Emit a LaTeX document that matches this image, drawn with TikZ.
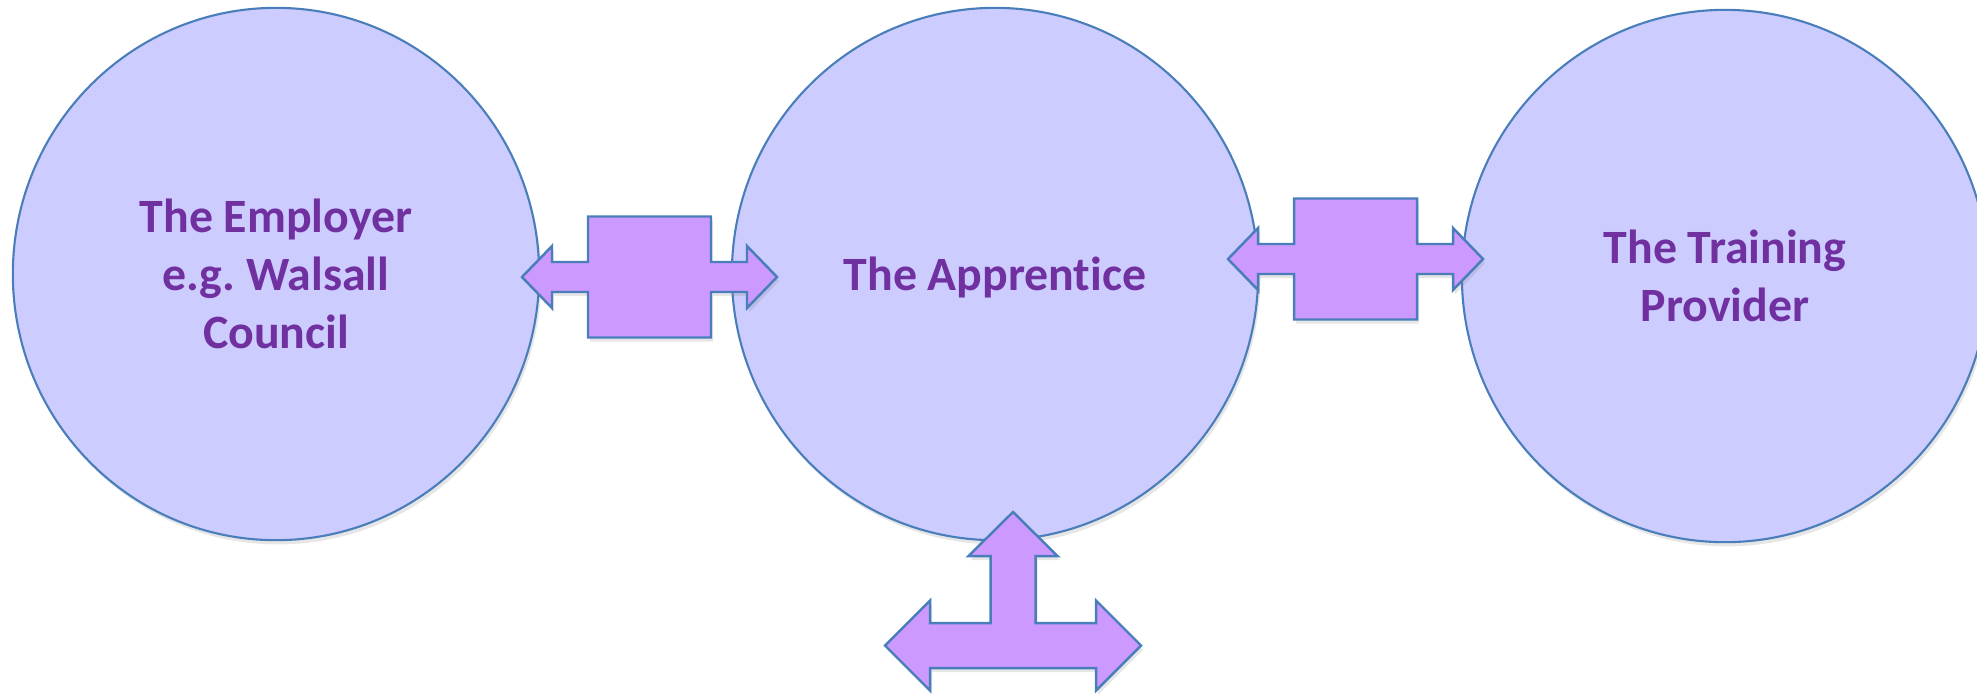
\documentclass[tikz,border=0pt]{standalone}
\usepackage{fontspec}
\setmainfont{Carlito}[Ligatures=NoCommon]
\usetikzlibrary{shapes.geometric,shadows}

\definecolor{circfill}{HTML}{CCCCFF}
\definecolor{edgeblue}{HTML}{4A7EBB}
\definecolor{arrowfill}{HTML}{CC99FF}
\definecolor{labelpurple}{HTML}{7030A0}

\begin{document}
\begin{tikzpicture}[x=0.01cm,y=-0.01cm,
  party/.style={ellipse,draw=edgeblue,fill=circfill,line width=0.6pt,
    minimum width=5.26cm,minimum height=5.32cm,inner sep=0pt,align=center,
    text=labelpurple,font=\bfseries\fontsize{13.6}{16.4}\selectfont,
    drop shadow={shadow xshift=0.6pt,shadow yshift=-1.2pt,opacity=0.2}},
  blockarrow/.style={draw=edgeblue,fill=arrowfill,line width=0.7pt,line join=miter,
    drop shadow={shadow xshift=0.6pt,shadow yshift=-1.2pt,opacity=0.2}}]

  % left-right arrow with a box in the middle
  \tikzset{lrcallout/.pic={
    \draw[blockarrow] (-127.5,0) -- (-97.5,-31) -- (-97.5,-15) -- (-61.5,-15)
      -- (-61.5,-60.5) -- (61.5,-60.5) -- (61.5,-15) -- (97.5,-15) -- (97.5,-31)
      -- (127.5,0) -- (97.5,31) -- (97.5,15) -- (61.5,15) -- (61.5,60.5)
      -- (-61.5,60.5) -- (-61.5,15) -- (-97.5,15) -- (-97.5,31) -- cycle;
  }}
  % three-way arrow: up, left and right
  \tikzset{tcallout/.pic={
    \draw[blockarrow] (0,-133.5) -- (44.5,-89.5) -- (22.5,-89.5) -- (22.5,-22.5)
      -- (83,-22.5) -- (83,-45) -- (128,0) -- (83,45) -- (83,22.5)
      -- (-83,22.5) -- (-83,45) -- (-128,0) -- (-83,-45) -- (-83,-22.5)
      -- (-22.5,-22.5) -- (-22.5,-89.5) -- (-44.5,-89.5) -- cycle;
  }}

  \useasboundingbox (0,0) rectangle (1977,693);

  \node[party] (employer) at (276,274) {The Employer\\e.g.\ Walsall\\Council};
  \node[party,text depth=0pt] (apprentice) at (995,274) {The Apprentice};
  \node[party] (provider) at (1725,276) {The Training\\Provider};

  \pic at (649.5,277) {lrcallout}; % employer <-> apprentice
  \pic at (1355.5,259) {lrcallout}; % apprentice <-> provider
  \pic at (1013,645.5) {tcallout}; % below the apprentice
\end{tikzpicture}
\end{document}
